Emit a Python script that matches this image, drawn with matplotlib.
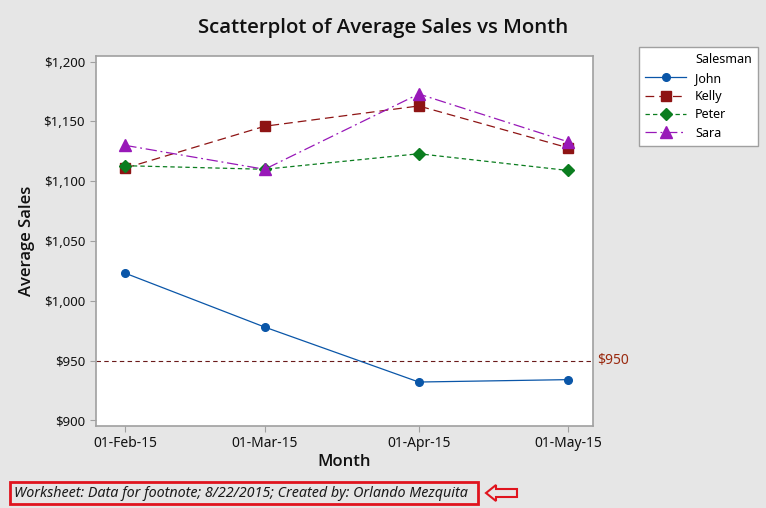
import datetime as dt
import matplotlib
matplotlib.use('Agg')
from matplotlib import pyplot as plt
import matplotlib.dates as mdates
from matplotlib.lines import Line2D
from matplotlib.patches import Rectangle, Polygon
from matplotlib.ticker import FuncFormatter

plt.rcParams['font.family'] = ['Noto Sans', 'DejaVu Sans']
heavy = ['Open Sans', 'Lato', 'DejaVu Sans']

# data
months = [dt.date(2015, 2, 1), dt.date(2015, 3, 1), dt.date(2015, 4, 1), dt.date(2015, 5, 1)]
john = [1023, 978, 932, 934]
kelly = [1111, 1146, 1163, 1128]
peter = [1113, 1110, 1123, 1109]
sara = [1130, 1110, 1173, 1133]
ref_value = 950

fig = plt.figure(figsize=(7.66, 5.08), dpi=100, facecolor='#e6e6e6')
ax = fig.add_axes([0.1247, 0.1614, 0.6493, 0.7284])
ax.set_facecolor('white')

series = [
    ('John', john, '#0a56a8', '-', 'o', 5.5),
    ('Kelly', kelly, '#8e1414', (0, (7, 4)), 's', 7),
    ('Peter', peter, '#0b7d1f', (0, (3.5, 2.5)), 'D', 6.5),
    ('Sara', sara, '#9818b8', (0, (9, 3, 1.5, 3)), '^', 8),
]

handles = [Line2D([], [], linestyle='none', marker='none')]
labels = ['Salesman']
for name, vals, col, ls, mk, ms in series:
    ln, = ax.plot(months, vals, color=col, linestyle=ls, linewidth=0.9,
                  marker=mk, markersize=ms, markeredgecolor=col, markerfacecolor=col)
    handles.append(ln)
    labels.append(name)

ax.axhline(ref_value, color='#6a1a1a', linestyle=(0, (4, 3)), linewidth=0.8, zorder=0)
ax.text(1.008, ref_value, '$950', transform=ax.get_yaxis_transform(),
        color='#9a2a10', fontsize=10, va='center', ha='left')

ax.set_xlim(dt.date(2015, 1, 26) + dt.timedelta(hours=14), dt.date(2015, 5, 6) + dt.timedelta(hours=12))
ax.set_ylim(895.2, 1204.8)
ax.set_xticks(months)
ax.xaxis.set_major_formatter(mdates.DateFormatter('%d-%b-%y'))
ax.set_yticks(range(900, 1201, 50))
ax.yaxis.set_major_formatter(FuncFormatter(lambda v, p: f'${v:,.0f}'))

for s in ax.spines.values():
    s.set_color('#a0a0a0')
    s.set_linewidth(1.2)
ax.tick_params(colors='#a0a0a0', labelcolor='#111111', length=4, width=0.8)
ax.tick_params(axis='y', labelsize=9.5)
ax.tick_params(axis='x', labelsize=10)

ax.set_xlabel('Month', fontsize=12, family=heavy, fontweight='semibold', color='#111111', labelpad=2)
ax.set_ylabel('Average Sales', fontsize=12, family=heavy, fontweight='semibold', color='#111111', labelpad=6)
fig.text(0.5, 0.944, 'Scatterplot of Average Sales vs Month', ha='center', va='center',
         fontsize=14.7, family=heavy, fontweight='semibold', color='#111111')

leg = fig.legend(handles, labels, loc='upper left', bbox_to_anchor=(0.834, 0.9075),
                 borderaxespad=0, fontsize=9, frameon=True, fancybox=False, framealpha=1,
                 handlelength=3.3, labelspacing=0.43, borderpad=0.5, handletextpad=0.7)
leg.get_frame().set_edgecolor('#a0a0a0')
leg.get_frame().set_linewidth(1.0)

fig.text(0.0183, 0.028, 'Worksheet: Data for footnote; 8/22/2015; Created by: Orlando Mezquita',
         fontsize=10.3, style='italic', color='#1a1a1a', va='center', ha='left')
fig.patches.append(Rectangle((0.0131, 0.0079), 0.611, 0.0433, transform=fig.transFigure,
                             fill=False, edgecolor='#e0141e', linewidth=2))
arrow_pts = [(486, 493), (496, 485), (496, 489), (517, 489), (517, 497), (496, 497), (496, 501)]
fig.patches.append(Polygon([(x / 766, 1 - y / 508) for x, y in arrow_pts], closed=True,
                           transform=fig.transFigure, fill=False, edgecolor='#e0141e', linewidth=1.5))

fig.savefig('out.png', dpi=100, facecolor=fig.get_facecolor())
